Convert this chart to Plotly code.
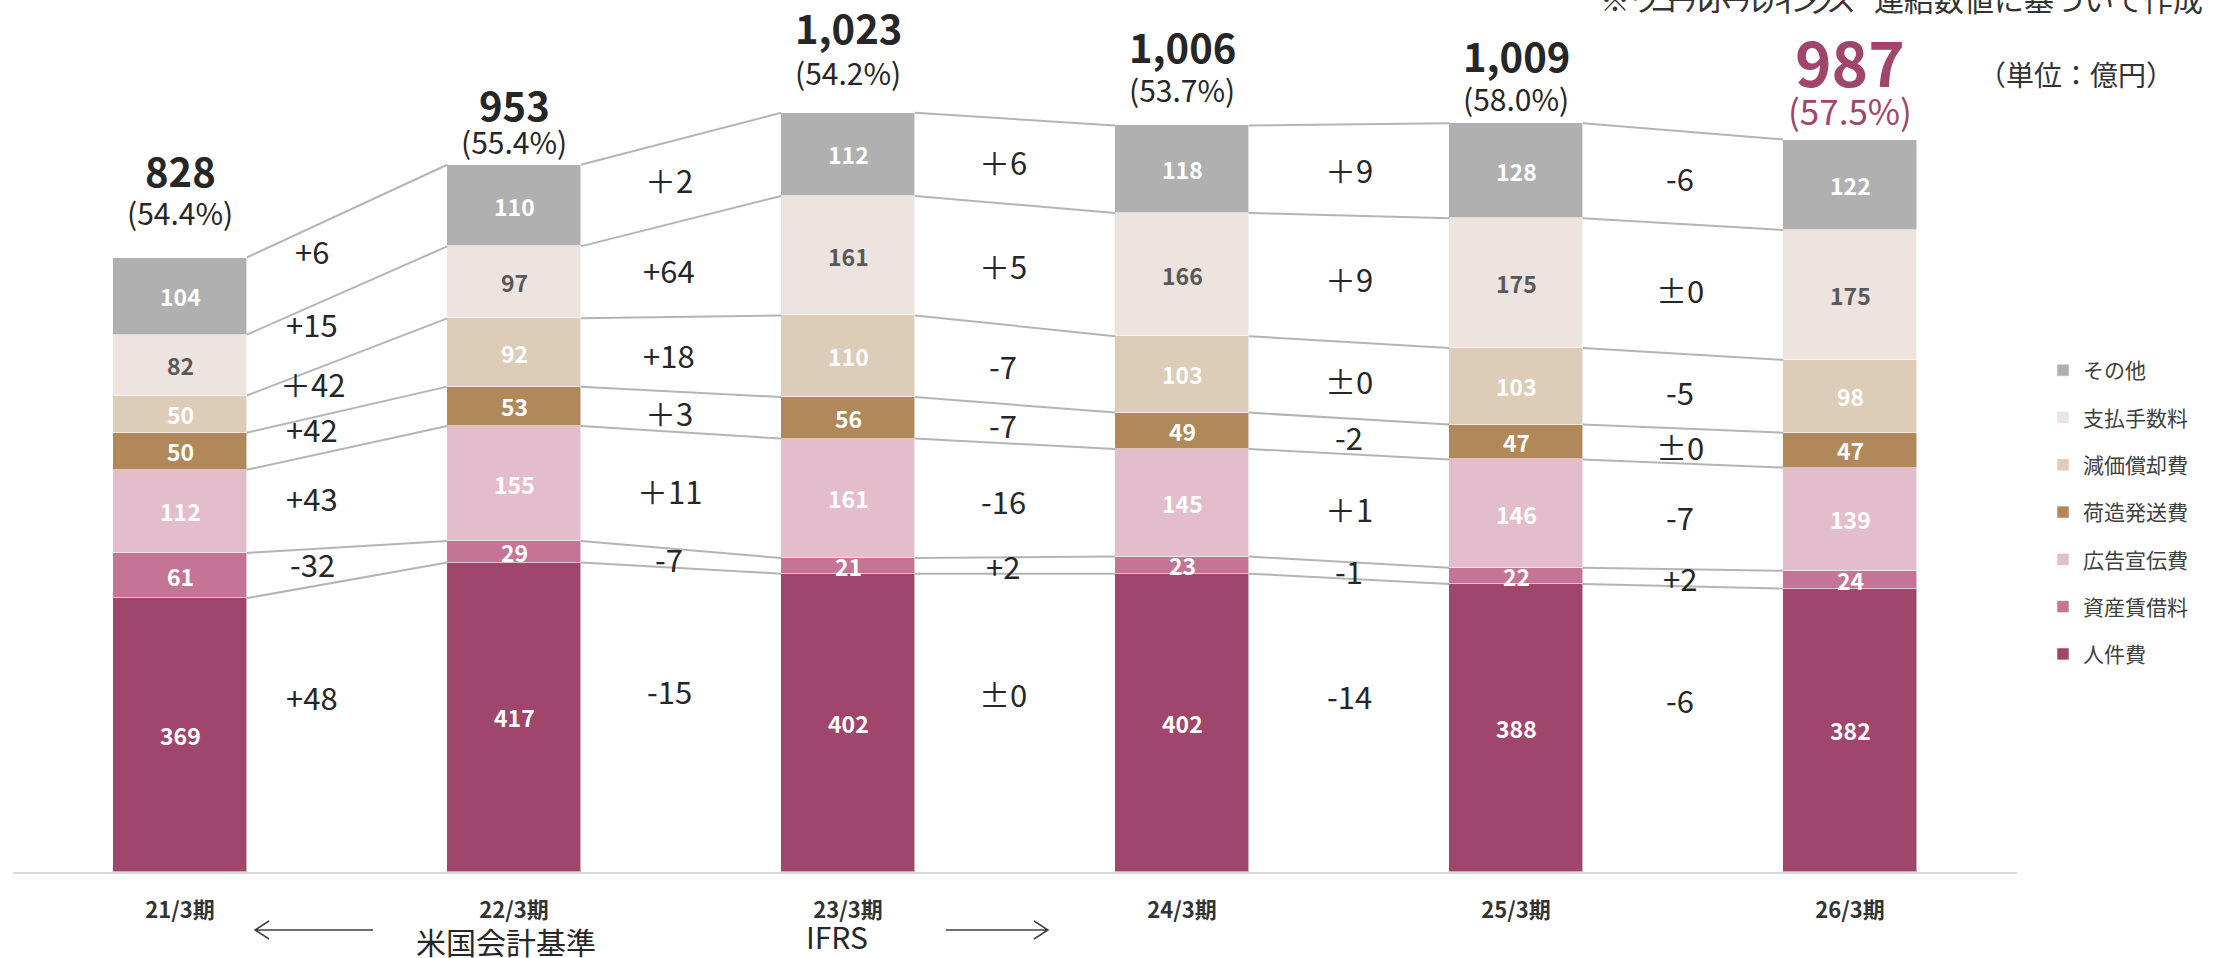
import plotly.graph_objects as go

# ---- data (億円) ----
periods = ["21/3期", "22/3期", "23/3期", "24/3期", "25/3期", "26/3期"]
series_names = ["人件費", "資産賃借料", "広告宣伝費", "荷造発送費", "減価償却費", "支払手数料", "その他"]
labor = [369, 417, 402, 402, 388, 382]
rent = [61, 29, 21, 23, 22, 24]
advertising = [112, 155, 161, 145, 146, 139]
shipping = [50, 53, 56, 49, 47, 47]
depreciation = [50, 92, 110, 103, 103, 98]
fees = [82, 97, 161, 166, 175, 175]
other = [104, 110, 112, 118, 128, 122]
sga_ratio = ["54.4%", "55.4%", "54.2%", "53.7%", "58.0%", "57.5%"]

# year-on-year change labels between neighbouring periods (one list per series)
chg_labor = ["+48", "-15", "±0", "-14", "-6"]
chg_rent = ["-32", "-7", "+2", "-1", "+2"]
chg_advertising = ["+43", "＋11", "-16", "＋1", "-7"]
chg_shipping = ["+42", "＋3", "-7", "-2", "±0"]
chg_depreciation = ["＋42", "+18", "-7", "±0", "-5"]
chg_fees = ["+15", "+64", "＋5", "＋9", "±0"]
chg_other = ["+6", "＋2", "＋6", "＋9", "-6"]

values = [labor, rent, advertising, shipping, depreciation, fees, other]
changes = [chg_labor, chg_rent, chg_advertising, chg_shipping, chg_depreciation, chg_fees, chg_other]

# ---- styling ----
colors = ["#A0456B", "#C47595", "#E3BDCC", "#B1885A", "#DDCCB7", "#EDE4DF", "#B0B0B0"]
seg_text_colors = ["white", "white", "white", "white", "white", "#595959", "white"]
FONT = "Noto Sans CJK JP"
DARK = "#262626"
ACCENT = "#A0456B"
BAR_W = 0.4

W, H = 2220, 958
ML, MR, MT, MB = 13, 203, 0, 86
PW, PH = W - ML - MR, H - MT - MB


def xp(px):
    return (px - ML) / PW


def yp(py):
    return (H - MB - py) / PH


n = len(periods)
xs = list(range(n))

fig = go.Figure()

# stacked bars (legend lists the top segment first)
k = len(series_names)
for idx, (name, vals, col) in enumerate(zip(series_names, values, colors)):
    fig.add_trace(go.Bar(
        x=xs, y=vals, name=name, width=BAR_W,
        marker=dict(color=col, line=dict(color="rgba(255,255,255,0.55)", width=1)),
        legendgroup=name, legendrank=k - idx, hoverinfo="skip",
    ))

# cumulative boundaries
cum = []
running = [0] * n
for vals in values:
    bottoms = running[:]
    running = [a + b for a, b in zip(running, vals)]
    cum.append((bottoms, running[:]))
totals = running

# connector lines between bars at every segment top
for bottoms, tops in cum:
    for i in range(n - 1):
        fig.add_trace(go.Scatter(
            x=[i + BAR_W / 2, i + 1 - BAR_W / 2], y=[tops[i], tops[i + 1]],
            mode="lines", line=dict(color="#B4B4B4", width=2),
            showlegend=False, hoverinfo="skip",
        ))

annotations = []

# value labels inside segments
for (bottoms, tops), vals, tc in zip(cum, values, seg_text_colors):
    for i in range(n):
        annotations.append(dict(
            x=i, y=bottoms[i] + vals[i] / 2, text=f"<b>{vals[i]}</b>", showarrow=False,
            font=dict(family=FONT, size=23, color=tc), xanchor="center", yanchor="middle",
        ))

# change labels in the gaps
gap_xshift = [-35, -12, -12, 0, -3]
series_yshift = [40, 0, 0, 0, 0, 0, 0]
for s, ((bottoms, tops), chg) in enumerate(zip(cum, changes)):
    for i in range(n - 1):
        c0 = (bottoms[i] + tops[i]) / 2
        c1 = (bottoms[i + 1] + tops[i + 1]) / 2
        annotations.append(dict(
            x=i + 0.5, y=(c0 + c1) / 2 + series_yshift[s], text=chg[i], showarrow=False,
            xshift=gap_xshift[i],
            font=dict(family=FONT, size=31, color=DARK), xanchor="center", yanchor="middle",
        ))

# totals and SG&A ratio above bars
total_shift = [88, 61, 86, 79, 68, 80]
ratio_shift = [46, 24, 41, 36, 25, 30]
for i in range(n):
    last = i == n - 1
    col = ACCENT if last else DARK
    annotations.append(dict(
        x=i, y=totals[i], text=f"<b>{totals[i]:,}</b>", showarrow=False, yshift=total_shift[i],
        font=dict(family=FONT, size=62 if last else 40, color=col),
        xanchor="center", yanchor="middle",
    ))
    annotations.append(dict(
        x=i, y=totals[i], text=f"({sga_ratio[i]})", showarrow=False, yshift=ratio_shift[i],
        font=dict(family=FONT, size=35 if last else 30, color=col),
        xanchor="center", yanchor="middle",
    ))

# unit note and source note
annotations.append(dict(
    xref="paper", yref="paper", x=xp(2076), y=yp(74), text="（単位：億円）", showarrow=False,
    font=dict(family=FONT, size=28, color="#333333"), xanchor="center", yanchor="middle",
))
annotations.append(dict(
    xref="paper", yref="paper", x=xp(1598), y=yp(22),
    text='※<span style="letter-spacing:-12px">ワコールホールディングス</span>　連結数値に基づいて作成',
    showarrow=False, font=dict(family=FONT, size=30, color="#333333"),
    xanchor="left", yanchor="bottom",
))

# accounting standard notes under the axis
annotations.append(dict(
    xref="paper", yref="paper", x=xp(506), y=yp(941), text="米国会計基準", showarrow=False,
    font=dict(family=FONT, size=30, color=DARK), xanchor="center", yanchor="middle",
))
annotations.append(dict(
    xref="paper", yref="paper", x=xp(837), y=yp(936), text="IFRS", showarrow=False,
    font=dict(family=FONT, size=30, color=DARK), xanchor="center", yanchor="middle",
))

shapes = []
arrow_style = dict(type="path", xref="paper", yref="paper",
                   line=dict(color="#404040", width=1.5))


def arrow_path(x0, x1, y, head_left):
    hx = x0 if head_left else x1
    d = 14 if head_left else -14
    return (f"M{xp(x0)},{yp(y)} L{xp(x1)},{yp(y)} "
            f"M{xp(hx + d)},{yp(y - 9)} L{xp(hx)},{yp(y)} L{xp(hx + d)},{yp(y + 9)}")


shapes.append(dict(arrow_style, path=arrow_path(255, 373, 930, True)))
shapes.append(dict(arrow_style, path=arrow_path(946, 1048, 930, False)))

fig.update_layout(
    width=W, height=H,
    margin=dict(l=ML, r=MR, t=MT, b=MB),
    paper_bgcolor="white", plot_bgcolor="white",
    barmode="stack", bargap=0,
    showlegend=True,
    legend=dict(
        x=xp(2043), y=yp(350), xanchor="left", yanchor="top",
        traceorder="grouped", tracegroupgap=17,
        font=dict(family=FONT, size=21, color="#404040"),
        bgcolor="rgba(0,0,0,0)",
    ),
    xaxis=dict(
        range=[-0.5, n - 0.5], tickvals=xs,
        ticktext=[f"<b>{p}</b>" for p in periods],
        tickfont=dict(family=FONT, size=22, color="#333333"),
        showgrid=False, zeroline=False, showline=True, linecolor="#D9D9D9", linewidth=2,
        ticks="", ticklabelstandoff=18,
    ),
    yaxis=dict(range=[0, 1175], visible=False, showgrid=False, zeroline=False),
    annotations=annotations,
    shapes=shapes,
    font=dict(family=FONT),
)

fig.write_html("out.html")
